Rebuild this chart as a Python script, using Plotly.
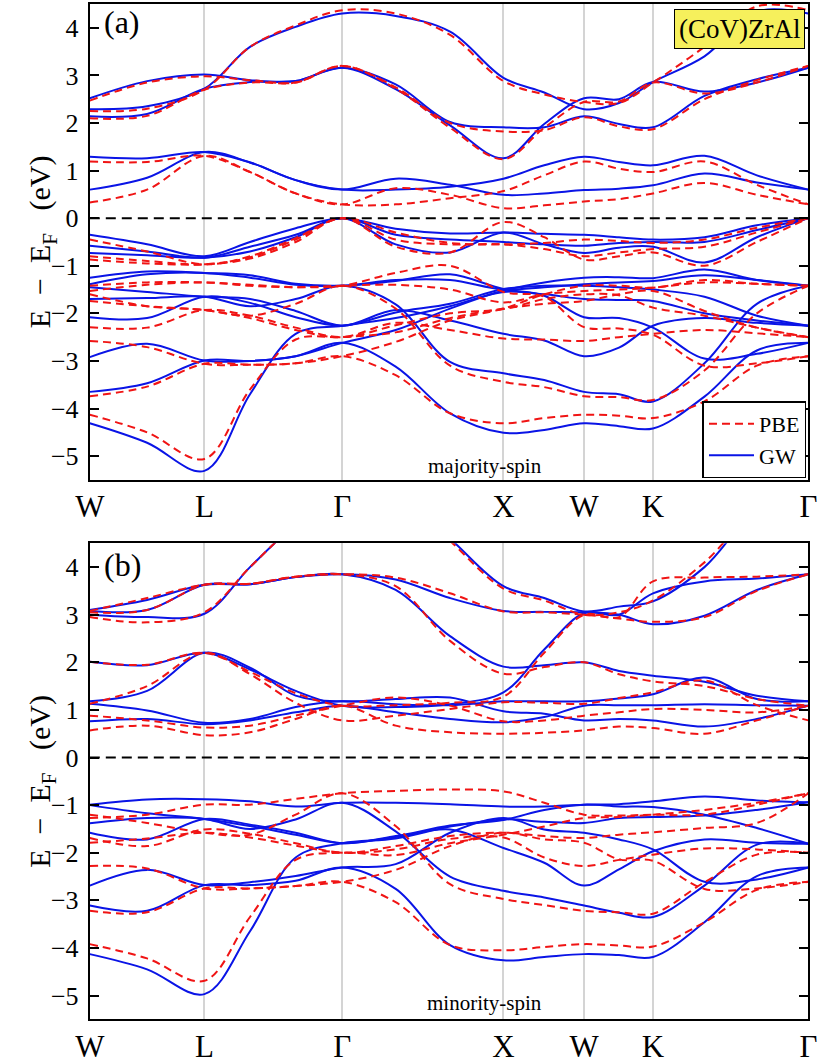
import plotly.graph_objects as go

# k-path positions (pixel-like units along W-L-G-X-W-K-G)
k_path = [0, 59, 118, 165, 212, 260, 315, 371, 426, 468, 509, 545, 580, 633, 687, 740]
k_ticks = [0, 118, 260, 426, 509, 580, 740]
k_labels = ['W', 'L', 'Γ', 'X', 'W', 'K', 'Γ']

# majority spin, GW bands (eV)
maj_gw = [
    [-0.35, -0.55, -0.8, -0.5, -0.21, 0, -0.22, -0.32, -0.3, -0.33, -0.35, -0.4, -0.45, -0.4, -0.15, 0],
    [-0.58, -0.7, -0.83, -0.6, -0.35, 0, -0.35, -0.45, -0.5, -0.55, -0.58, -0.52, -0.5, -0.5, -0.25, 0],
    [-0.73, -0.78, -0.83, -0.7, -0.4, 0, -0.55, -0.72, -0.3, -0.55, -0.73, -0.62, -0.6, -0.93, -0.4, 0],
    [-1.25, -1.12, -1.15, -1.2, -1.38, -1.42, -1.32, -1.18, -1.49, -1.63, -2.08, -2.1, -2.3, -2.95, -2.85, -2.62],
    [-1.39, -1.18, -1.15, -1.25, -1.4, -1.42, -1.3, -1.3, -1.5, -1.45, -1.39, -1.35, -1.32, -1.2, -1.3, -1.42],
    [-1.7, -1.68, -1.65, -1.85, -1.7, -1.42, -1.81, -3.02, -3.26, -3.4, -3.65, -3.7, -3.85, -3.05, -1.8, -1.42],
    [-1.45, -1.55, -1.65, -1.7, -1.95, -2.26, -1.93, -2.15, -2.43, -2.57, -2.9, -2.72, -2.26, -2.1, -2.2, -2.26],
    [-2.08, -2.1, -1.65, -1.78, -2.08, -2.26, -1.98, -1.8, -1.49, -1.42, -1.42, -1.45, -1.5, -1.65, -2.05, -2.26],
    [-4.31, -4.72, -5.31, -3.7, -2.43, -2.26, -2.1, -1.85, -1.55, -1.6, -1.7, -1.72, -1.74, -2.0, -2.15, -2.26],
    [-2.92, -2.64, -2.99, -3.0, -2.9, -2.62, -2.35, -1.9, -1.52, -1.35, -1.25, -1.24, -1.26, -1.08, -1.3, -1.42],
    [-3.65, -3.47, -2.99, -3.0, -2.9, -2.62, -3.12, -4.1, -4.51, -4.45, -4.31, -4.37, -4.42, -3.75, -2.78, -2.62],
    [1.29, 1.26, 1.39, 1.17, 0.8, 0.6, 0.83, 0.7, 0.49, 0.52, 0.59, 0.62, 0.69, 0.94, 0.75, 0.6],
    [0.6, 0.85, 1.39, 1.17, 0.8, 0.6, 0.6, 0.66, 0.83, 1.11, 1.29, 1.18, 1.11, 1.31, 0.9, 0.6],
    [2.52, 2.88, 3.02, 2.9, 2.88, 3.16, 2.81, 2.02, 1.91, 1.91, 2.14, 1.98, 1.91, 2.57, 2.92, 3.16],
    [2.29, 2.35, 2.72, 3.6, 4.02, 4.3, 4.25, 3.92, 2.95, 2.64, 2.29, 2.42, 2.86, 3.4, 4.34, 4.3],
    [2.14, 2.19, 2.72, 2.86, 2.88, 3.16, 2.71, 1.95, 1.26, 1.98, 2.52, 2.5, 2.86, 2.66, 2.85, 3.16],
]

# majority spin, PBE bands (eV)
maj_pbe = [
    [-0.45, -0.7, -0.97, -0.8, -0.42, 0, -0.3, -0.52, -0.55, -0.52, -0.45, -0.48, -0.52, -0.45, -0.2, 0],
    [-0.8, -0.9, -0.97, -0.82, -0.45, 0, -0.45, -0.55, -0.55, -0.65, -0.8, -0.72, -0.65, -0.6, -0.3, 0],
    [-0.87, -0.95, -0.97, -0.85, -0.5, 0, -0.6, -0.72, -0.08, -0.4, -0.87, -0.8, -0.72, -1.0, -0.5, 0],
    [-1.42, -1.35, -1.35, -1.4, -1.45, -1.42, -1.15, -1.0, -1.55, -1.65, -2.29, -2.32, -2.45, -3.1, -3.05, -2.9],
    [-1.53, -1.4, -1.35, -1.42, -1.45, -1.42, -1.4, -1.5, -1.77, -1.6, -1.53, -1.5, -1.46, -1.35, -1.38, -1.42],
    [-1.74, -1.85, -1.93, -2.05, -1.8, -1.42, -1.9, -3.1, -3.44, -3.55, -3.74, -3.76, -3.82, -3.2, -2.0, -1.42],
    [-1.6, -1.85, -1.93, -2.1, -2.35, -2.5, -2.2, -2.35, -2.53, -2.55, -2.58, -2.5, -2.43, -2.35, -2.42, -2.5],
    [-2.29, -2.3, -1.93, -2.05, -2.3, -2.5, -2.25, -2.0, -1.91, -1.7, -1.6, -1.62, -1.88, -2.05, -2.3, -2.5],
    [-4.13, -4.5, -5.06, -3.6, -2.55, -2.5, -2.4, -2.1, -1.9, -1.8, -1.74, -1.6, -1.53, -1.95, -2.3, -2.5],
    [-2.58, -2.71, -3.06, -3.08, -3.05, -2.9, -2.6, -2.15, -1.9, -1.6, -1.42, -1.42, -1.46, -1.3, -1.38, -1.42],
    [-3.74, -3.54, -3.06, -3.08, -3.05, -2.9, -3.3, -4.1, -4.31, -4.2, -4.13, -4.15, -4.2, -3.85, -3.1, -2.9],
    [1.19, 1.18, 1.31, 0.97, 0.52, 0.29, 0.63, 0.49, 0.21, 0.27, 0.35, 0.4, 0.52, 0.74, 0.49, 0.29],
    [0.33, 0.6, 1.31, 0.97, 0.52, 0.29, 0.29, 0.42, 0.57, 0.9, 1.19, 1.04, 0.97, 1.19, 0.7, 0.29],
    [2.47, 2.85, 2.98, 2.9, 2.85, 3.2, 2.75, 2.0, 1.82, 1.85, 2.12, 1.93, 1.87, 2.5, 2.9, 3.2],
    [2.25, 2.3, 2.7, 3.6, 4.05, 4.37, 4.3, 3.85, 2.88, 2.6, 2.44, 2.42, 2.85, 3.6, 4.45, 4.37],
    [2.1, 2.15, 2.7, 2.85, 2.85, 3.2, 2.72, 1.9, 1.24, 1.9, 2.44, 2.45, 2.85, 2.62, 2.85, 3.2],
]

# minority spin, GW bands (eV)
min_gw = [
    [3.10, 3.31, 3.63, 3.64, 3.79, 3.85, 3.74, 3.35, 3.08, 3.06, 3.05, 3.0, 2.8, 2.98, 3.52, 3.85],
    [3.08, 3.10, 3.63, 3.64, 3.79, 3.85, 3.52, 2.55, 1.91, 1.94, 2.0, 1.82, 1.72, 1.59, 1.3, 1.18],
    [3.0, 2.95, 3.02, 4.0, 4.9, 5.6, 5.6, 4.6, 3.6, 3.35, 3.07, 3.17, 3.28, 4.0, 5.2, 5.6],
    [2.01, 1.94, 2.2, 1.85, 1.4, 1.09, 1.06, 1.12, 1.37, 2.27, 3.03, 3.0, 3.45, 3.7, 3.76, 3.85],
    [1.18, 1.4, 2.2, 1.89, 1.3, 1.18, 1.23, 1.26, 0.97, 0.92, 0.78, 0.81, 0.78, 0.65, 0.81, 1.09],
    [1.13, 0.99, 0.73, 0.81, 1.06, 1.18, 1.12, 1.1, 1.18, 1.18, 1.18, 1.24, 1.33, 1.68, 1.23, 1.18],
    [0.76, 0.81, 0.7, 0.78, 0.95, 1.09, 0.95, 0.81, 0.74, 0.85, 1.09, 1.1, 1.1, 1.12, 1.1, 1.09],
    [-0.99, -0.88, -0.875, -0.92, -1.03, -0.95, -0.95, -0.98, -1.03, -1.03, -0.99, -0.98, -0.92, -0.82, -0.9, -0.94],
    [-1.38, -1.27, -1.29, -1.5, -1.3, -0.95, -1.55, -2.5, -2.8, -2.94, -3.11, -3.26, -3.35, -2.69, -1.83, -1.81],
    [-1.0, -1.17, -1.29, -1.44, -1.62, -1.8, -1.65, -1.43, -1.31, -1.1, -0.99, -1.03, -1.04, -1.2, -1.48, -1.81],
    [-1.58, -1.72, -1.29, -1.41, -1.58, -1.8, -1.67, -1.51, -1.9, -2.21, -2.69, -2.35, -1.97, -1.72, -1.79, -1.81],
    [-4.13, -4.45, -4.97, -3.65, -2.1, -1.8, -1.7, -1.45, -1.3, -1.35, -1.375, -1.27, -1.25, -1.22, -1.1, -0.94],
    [-2.69, -2.36, -2.68, -2.62, -2.49, -2.31, -2.24, -1.58, -1.27, -1.51, -1.58, -1.72, -1.93, -2.61, -2.56, -2.31],
    [-3.11, -3.22, -2.68, -2.68, -2.59, -2.31, -2.76, -3.94, -4.26, -4.19, -4.13, -4.15, -4.19, -3.46, -2.49, -2.31],
]

# minority spin, PBE bands (eV)
min_pbe = [
    [3.08, 3.35, 3.63, 3.65, 3.8, 3.85, 3.78, 3.45, 3.07, 3.05, 3.0, 2.92, 2.85, 2.95, 3.5, 3.85],
    [3.05, 3.1, 3.63, 3.65, 3.8, 3.85, 3.6, 2.45, 1.76, 1.9, 2.0, 1.75, 1.6, 1.5, 1.23, 1.09],
    [2.95, 2.84, 3.05, 4.0, 4.9, 5.6, 5.6, 4.55, 3.55, 3.3, 3.0, 3.05, 3.3, 4.1, 5.2, 5.6],
    [2.01, 1.95, 2.2, 1.8, 1.35, 1.09, 1.1, 1.15, 1.28, 2.2, 3.0, 2.95, 3.7, 3.78, 3.8, 3.85],
    [1.13, 1.5, 2.2, 1.75, 1.15, 0.78, 0.88, 1.02, 1.16, 1.15, 1.13, 1.25, 1.37, 1.62, 1.1, 0.78],
    [0.88, 0.78, 0.63, 0.67, 0.88, 1.09, 1.26, 1.09, 0.76, 0.78, 0.88, 0.95, 1.02, 1.0, 0.95, 1.09],
    [0.57, 0.67, 0.47, 0.53, 0.81, 1.09, 0.67, 0.53, 0.5, 0.52, 0.57, 0.65, 0.62, 0.5, 0.78, 1.09],
    [-1.27, -1.2, -0.99, -0.99, -0.87, -0.75, -0.7, -0.67, -0.71, -0.95, -1.2, -1.22, -1.2, -1.2, -0.99, -0.75],
    [-1.2, -1.375, -1.58, -1.62, -1.2, -0.75, -1.44, -2.66, -2.97, -3.1, -3.22, -3.25, -3.28, -2.62, -2.04, -2.0],
    [-1.69, -1.86, -1.51, -1.6, -1.8, -2.0, -1.86, -1.65, -1.58, -1.65, -1.69, -1.62, -1.57, -1.48, -1.375, -0.75],
    [-1.79, -1.7, -1.58, -1.68, -1.85, -2.0, -1.93, -1.71, -1.68, -2.1, -2.28, -2.15, -2.04, -1.91, -1.93, -2.0],
    [-3.92, -4.22, -4.69, -3.35, -2.15, -2.0, -2.05, -1.8, -1.62, -1.45, -1.27, -1.25, -1.2, -1.1, -0.95, -0.75],
    [-2.28, -2.33, -2.75, -2.75, -2.7, -2.61, -2.36, -1.86, -1.58, -1.72, -1.79, -2.14, -2.17, -2.76, -2.75, -2.61],
    [-3.22, -3.25, -2.75, -2.75, -2.7, -2.61, -3.04, -3.94, -4.05, -3.98, -3.92, -3.95, -3.97, -3.46, -2.78, -2.61],
]

FONT = 'Liberation Serif, Times New Roman, serif'
BLUE = '#0a14e6'
RED = '#f01414'

fig = go.Figure()


def add_bands(bands, xa, ya, color, dash, name, show):
    for i, b in enumerate(bands):
        fig.add_trace(go.Scatter(
            x=k_path, y=b, xaxis=xa, yaxis=ya, mode='lines',
            line=dict(color=color, width=2, dash=dash, shape='spline', smoothing=1.0),
            name=name, legendgroup=name, showlegend=(show and i == 0),
            legendrank=1 if name == 'PBE' else 2,
            hoverinfo='skip',
        ))


add_bands(maj_gw, 'x', 'y', BLUE, 'solid', 'GW', True)
add_bands(maj_pbe, 'x', 'y', RED, '8px,5px', 'PBE', True)
add_bands(min_gw, 'x2', 'y2', BLUE, 'solid', 'GW', False)
add_bands(min_pbe, 'x2', 'y2', RED, '8px,5px', 'PBE', False)

xdom = [0.0928, 0.9843]
xcommon = dict(range=[0, 740], tickvals=k_ticks, ticktext=k_labels, showgrid=True,
               gridcolor='#d4d4d4', gridwidth=2, showline=True, linecolor='black',
               linewidth=2, mirror=True, ticks='', zeroline=False,
               ticklabelstandoff=-2,
               tickfont=dict(family=FONT, size=31, color='black'), domain=xdom)
ycommon = dict(range=[-5.5, 4.5], dtick=1, tick0=0, showgrid=False, showline=True,
               linecolor='black', linewidth=2, mirror='ticks', ticks='inside',
               ticklen=9, tickwidth=1.5, tickcolor='black', zeroline=False,
               ticklabelstandoff=4,
               tickfont=dict(family=FONT, size=26, color='black'))

fig.update_layout(
    width=830, height=1064,
    margin=dict(l=0, r=0, t=0, b=0),
    paper_bgcolor='white', plot_bgcolor='white',
    xaxis=dict(anchor='y', **xcommon),
    yaxis=dict(anchor='x', domain=[0.5451, 0.9962], **ycommon),
    xaxis2=dict(anchor='y2', **xcommon),
    yaxis2=dict(anchor='x2', domain=[0.0338, 0.4850], **ycommon),
    showlegend=True,
    legend=dict(x=0.982, y=0.5465, xanchor='right', yanchor='bottom',
                bgcolor='white', bordercolor='black', borderwidth=1.5,
                font=dict(family=FONT, size=22, color='black'),
                tracegroupgap=0, itemwidth=45),
)

# Fermi level
for xa, ya in (('x', 'y'), ('x2', 'y2')):
    fig.add_shape(type='line', xref=xa, yref=ya, x0=0, x1=740, y0=0, y1=0,
                  line=dict(color='black', width=2, dash='10px,6px'))

sp = '&nbsp;'
ytitle = 'E' + sp * 2 + '−' + sp * 2 + 'E<sub>F</sub>' + sp * 3 + '(eV)'
for txt, yc in (('(a)', 0.979), ('(b)', 0.464)):
    fig.add_annotation(text=txt, xref='paper', yref='paper', x=0.108, y=yc,
                       xanchor='left', yanchor='middle', showarrow=False,
                       font=dict(family=FONT, size=32, color='black'))

fig.add_annotation(text='(CoV)ZrAl', xref='paper', yref='paper', x=0.8988, y=0.9727,
                   xanchor='center', yanchor='middle', showarrow=False,
                   font=dict(family=FONT, size=27, color='black'),
                   bgcolor='#f6f05c', bordercolor='black', borderwidth=1, borderpad=4)
for txt, yc in (('majority-spin', 0.558), ('minority-spin', 0.0495)):
    fig.add_annotation(text=txt, xref='paper', yref='paper', x=0.583, y=yc,
                       xanchor='center', yanchor='middle', showarrow=False,
                       font=dict(family=FONT, size=21, color='black'))
for yc in (0.7707, 0.2594):
    fig.add_annotation(text=ytitle, xref='paper', yref='paper', x=0.034, y=yc,
                       xanchor='center', yanchor='middle', textangle=-90, showarrow=False,
                       font=dict(family=FONT, size=30, color='black'))

fig.write_html('out.html', config={'displayModeBar': False},
               post_script="document.body.style.margin='0px';")
